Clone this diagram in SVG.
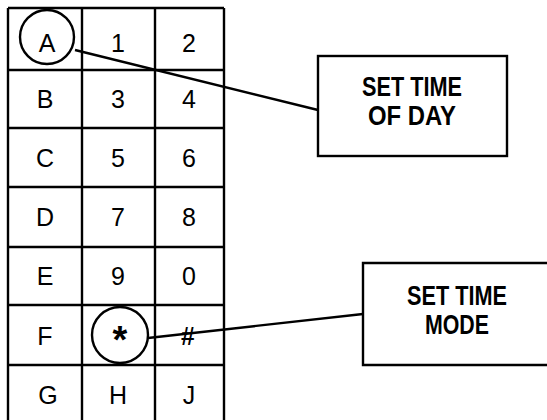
<svg xmlns="http://www.w3.org/2000/svg" width="547" height="420" viewBox="0 0 547 420">
<style>
.g{fill:none;stroke:#000;stroke-width:2.4}
.k{font-family:"Liberation Sans",Arial,sans-serif;font-size:25px;text-anchor:middle;fill:#000}
.lbl{font-family:"Liberation Sans",Arial,sans-serif;font-size:27px;font-weight:bold;text-anchor:middle;fill:#000}
.c{fill:none;stroke:#000;stroke-width:2.4}
</style>
<rect width="547" height="420" fill="#fff"/>
<g id="keypad">
<path class="g" d="M8,8 H224 M8,70 H224 M8,128 H224 M8,187 H224 M8,247 H224 M8,305 H224 M8,365 H224 M8,8 V420 M82,8 V420 M155,8 V420 M224,8 V420"/>
<text class="k" x="47" y="52">A</text>
<text class="k" x="118" y="52">1</text>
<text class="k" x="189" y="52">2</text>
<text class="k" x="45" y="108">B</text>
<text class="k" x="118" y="108">3</text>
<text class="k" x="189" y="108">4</text>
<text class="k" x="45" y="167">C</text>
<text class="k" x="118" y="167">5</text>
<text class="k" x="189" y="167">6</text>
<text class="k" x="45" y="226">D</text>
<text class="k" x="118" y="226">7</text>
<text class="k" x="189" y="226">8</text>
<text class="k" x="45" y="285">E</text>
<text class="k" x="118" y="285">9</text>
<text class="k" x="189" y="285">0</text>
<text class="k" x="45" y="345">F</text>
<text class="k" x="120" y="353" style="font-size:38px;font-weight:bold">*</text>
<text class="k" x="188" y="345" style="font-weight:bold">#</text>
<text class="k" x="48" y="404">G</text>
<text class="k" x="118" y="404">H</text>
<text class="k" x="189" y="404">J</text>
<circle class="c" cx="47" cy="37" r="27"/>
<circle class="c" cx="120" cy="335" r="28"/>
</g>
<g id="connectors">
<line x1="75" y1="50" x2="318" y2="110" stroke="#000" stroke-width="2.4"/>
<line x1="148" y1="338" x2="363" y2="314" stroke="#000" stroke-width="2.4"/>
</g>
<g id="set-time-of-day">
<rect x="318" y="56" width="189" height="100" fill="none" stroke="#000" stroke-width="2.4"/>
<text class="lbl" x="412" y="96" textLength="100" lengthAdjust="spacingAndGlyphs">SET TIME</text>
<text class="lbl" x="412" y="125" textLength="88" lengthAdjust="spacingAndGlyphs">OF DAY</text>
</g>
<g id="set-time-mode">
<path d="M548,263 H363 V365 H548" fill="none" stroke="#000" stroke-width="2.4"/>
<text class="lbl" x="457" y="305" textLength="100" lengthAdjust="spacingAndGlyphs">SET TIME</text>
<text class="lbl" x="457" y="334" textLength="64" lengthAdjust="spacingAndGlyphs">MODE</text>
</g>
</svg>
